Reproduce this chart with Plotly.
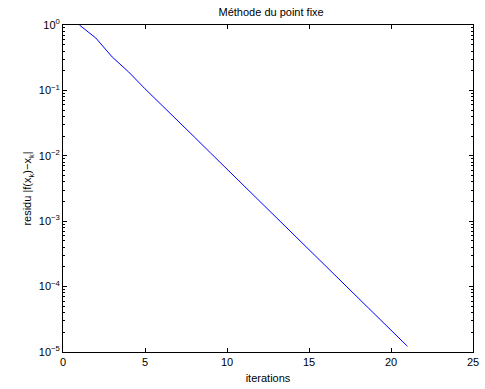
import plotly.graph_objects as go

iterations = list(range(1, 22))
residu = [1.0, 0.632121, 0.324321, 0.191727, 0.105770, 0.060848, 0.034216,
          0.019497, 0.011028, 0.006264, 0.003550, 0.002014, 0.001142,
          0.000648, 0.000367, 0.000208, 0.0001182, 0.0000670, 0.0000380,
          0.0000216, 0.00001224]

y_tickvals = [1e-5, 1e-4, 1e-3, 1e-2, 1e-1, 1]
y_ticktext = ["10<sup>−5</sup>", "10<sup>−4</sup>", "10<sup>−3</sup>",
              "10<sup>−2</sup>", "10<sup>−1</sup>", "10<sup>0</sup>"]
x_tickvals = [0, 5, 10, 15, 20, 25]

font = "Liberation Sans, Arial, sans-serif"

fig = go.Figure()
fig.add_trace(go.Scatter(x=iterations, y=residu, mode="lines",
                         line=dict(color="#0000ff", width=1), showlegend=False))
# invisible trace on mirrored axes so they render
fig.add_trace(go.Scatter(x=[None], y=[None], xaxis="x2", yaxis="y2",
                         showlegend=False, hoverinfo="skip"))

fig.update_layout(
    width=485, height=389,
    margin=dict(l=63, r=6, t=25, b=36),
    paper_bgcolor="white", plot_bgcolor="white",
    font=dict(family=font, size=11, color="black"),
    title=dict(text="Méthode du point fixe", x=0.559, xanchor="center",
               y=1 - 12 / 389, yanchor="middle", font=dict(size=11)),
    xaxis=dict(
        range=[0, 25], tickvals=x_tickvals, ticks="inside", ticklen=4,
        tickcolor="black", showline=True, linecolor="black", linewidth=1,
        mirror=True, showgrid=False, zeroline=False, ticklabeloverflow="allow",
        title=dict(text="iterations", standoff=7, font=dict(size=11)),
        tickfont=dict(size=11),
    ),
    yaxis=dict(
        type="log", range=[-5, 0], tickvals=y_tickvals, ticktext=y_ticktext,
        ticks="inside", ticklen=4, tickcolor="black",
        showline=True, linecolor="black", linewidth=1, mirror=True,
        showgrid=False, zeroline=False, ticklabeloverflow="allow",
        minor=dict(ticks="inside", ticklen=2, tickcolor="black", dtick="D1", showgrid=False),
        title=dict(text="residu |f(x<sub>k</sub>)−x<sub>k</sub>|", standoff=4, font=dict(size=11)),
        tickfont=dict(size=11),
    ),
    xaxis2=dict(overlaying="x", side="top", range=[0, 25], tickvals=x_tickvals,
                ticks="inside", ticklen=4, tickcolor="black", showticklabels=False,
                showgrid=False, zeroline=False, showline=False),
    yaxis2=dict(overlaying="y", side="right", type="log", range=[-5, 0],
                tickvals=y_tickvals, ticks="inside", ticklen=4, tickcolor="black",
                showticklabels=False, showgrid=False, zeroline=False, showline=False,
                minor=dict(ticks="inside", ticklen=2, tickcolor="black", dtick="D1",
                           showgrid=False)),
)

fig.write_html("out.html")
